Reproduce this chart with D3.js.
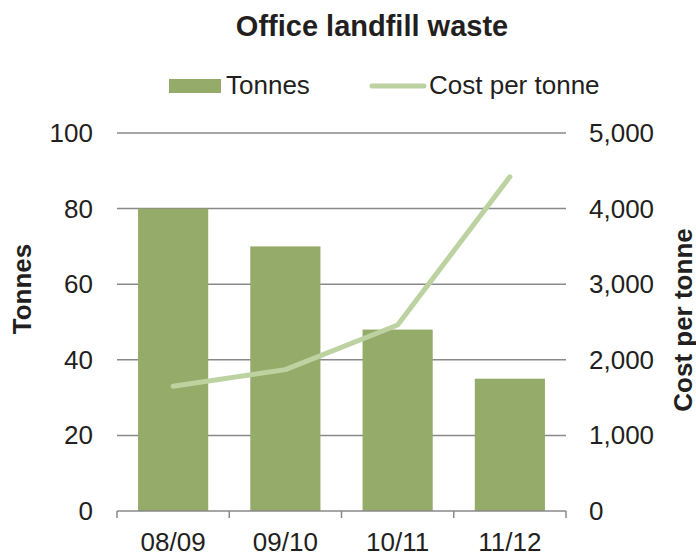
<!DOCTYPE html>
<html>
<head>
<meta charset="utf-8">
<script src="https://cdn.jsdelivr.net/npm/d3@7"></script>
<style>
body{margin:0;background:#fff;font-family:"Liberation Sans",Arial,sans-serif;}
</style>
</head>
<body>
<script>
const years=["08/09","09/10","10/11","11/12"]
const tonnes=[80,70,48,35]
const cost=[1650,1870,2460,4420]
const leftTicks=[0,20,40,60,80,100]
const rightTicks=[0,1000,2000,3000,4000,5000]

const w=696,h=554
const pLeft=117,pRight=566,pTop=133,pBottom=511

const svg=d3.select("body").append("svg")
  .attr("width",w).attr("height",h)

const x=d3.scaleBand().domain(years).range([pLeft,pRight]).paddingInner(0.375).paddingOuter(0.1875)
const xPos=d3.scaleBand().domain(years).range([pLeft,pRight])
const yL=d3.scaleLinear().domain([0,100]).range([pBottom,pTop])
const yR=d3.scaleLinear().domain([0,5000]).range([pBottom,pTop])

// gridlines
svg.append("g").selectAll("line").data(leftTicks.slice(1)).join("line")
  .attr("x1",pLeft).attr("x2",pRight)
  .attr("y1",d=>yL(d)).attr("y2",d=>yL(d))
  .attr("stroke","#898989").attr("stroke-width",1.5)

// bars
svg.append("g").selectAll("rect").data(tonnes).join("rect")
  .attr("x",(d,i)=>x(years[i]))
  .attr("y",d=>yL(d))
  .attr("width",x.bandwidth())
  .attr("height",d=>yL(0)-yL(d))
  .attr("fill","#95ab6a")

// x axis
const xAxis=svg.append("g").attr("transform","translate(0,"+pBottom+")")
xAxis.append("line").attr("x1",pLeft).attr("x2",pRight).attr("stroke","#898989").attr("stroke-width",1.5)
xAxis.selectAll(".tk").data(years.concat(["end"])).join("line")
  .attr("x1",(d,i)=>pLeft+i*xPos.step()).attr("x2",(d,i)=>pLeft+i*xPos.step())
  .attr("y1",0).attr("y2",7).attr("stroke","#898989").attr("stroke-width",1.5)
xAxis.selectAll("text").data(years).join("text")
  .attr("x",d=>xPos(d)+xPos.bandwidth()/2).attr("y",40)
  .attr("text-anchor","middle").attr("font-size",26).attr("fill","#231f20")
  .text(d=>d)

// line
const line=d3.line().x((d,i)=>xPos(years[i])+xPos.bandwidth()/2).y(d=>yR(d))
svg.append("path").datum(cost)
  .attr("d",line).attr("fill","none")
  .attr("stroke","#bdd2a1").attr("stroke-width",5).attr("stroke-linecap","round").attr("stroke-linejoin","round")

// left axis labels
svg.append("g").selectAll("text").data(leftTicks).join("text")
  .attr("x",93).attr("y",d=>yL(d)+9)
  .attr("text-anchor","end").attr("font-size",26).attr("fill","#231f20")
  .text(d=>d)
// right axis labels
svg.append("g").selectAll("text").data(rightTicks).join("text")
  .attr("x",589).attr("y",d=>yR(d)+9)
  .attr("text-anchor","start").attr("font-size",26).attr("fill","#231f20")
  .text(d=>d3.format(",")(d))

// axis titles
svg.append("text").attr("transform","translate(31,289) rotate(-90)")
  .attr("text-anchor","middle").attr("font-size",26).attr("font-weight","bold").attr("fill","#231f20")
  .text("Tonnes")
svg.append("text").attr("transform","translate(692,320) rotate(-90)")
  .attr("text-anchor","middle").attr("font-size",26).attr("font-weight","bold").attr("fill","#231f20")
  .text("Cost per tonne")

// title
svg.append("text").attr("x",372).attr("y",36)
  .attr("text-anchor","middle").attr("font-size",29).attr("font-weight","bold").attr("fill","#231f20")
  .text("Office landfill waste")

// legend
const lg=svg.append("g")
lg.append("rect").attr("x",169).attr("y",79).attr("width",52).attr("height",14).attr("fill","#95ab6a")
lg.append("text").attr("x",226).attr("y",94).attr("font-size",26).attr("fill","#231f20").text("Tonnes")
lg.append("line").attr("x1",372).attr("x2",424).attr("y1",86).attr("y2",86)
  .attr("stroke","#bdd2a1").attr("stroke-width",5).attr("stroke-linecap","round")
lg.append("text").attr("x",429).attr("y",94).attr("font-size",26).attr("fill","#231f20").text("Cost per tonne")
</script>
</body>
</html>
